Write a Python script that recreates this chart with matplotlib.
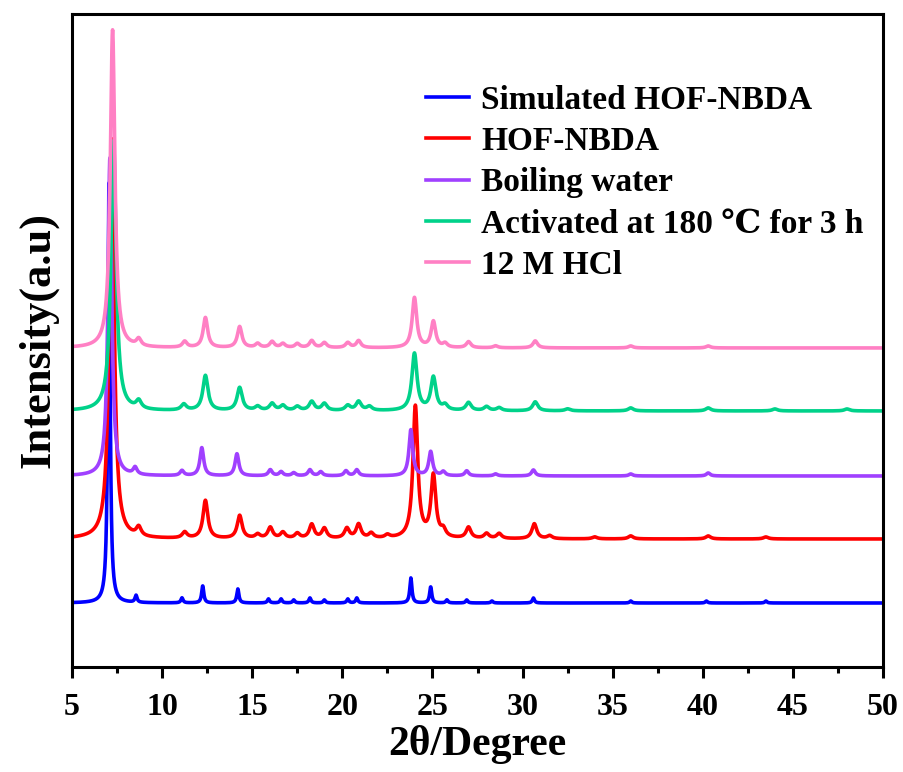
import numpy as np
import matplotlib.pyplot as plt

plt.rcParams['font.family'] = ['Liberation Serif', 'DejaVu Serif']
plt.rcParams['font.weight'] = 'bold'

# sample names and colours
labels = ['Simulated HOF-NBDA', 'HOF-NBDA', 'Boiling water',
          'Activated at 180 \u2103 for 3 h', '12 M HCl']
colors = ['#0000FF', '#FF0000', '#A040FF', '#00D28A', '#FF80C4']

# vertical offsets of each pattern (a.u.)
offsets = [64, 128, 191, 256, 319]

# peak tables: 2theta, height (a.u.), FWHM
sim_pos = [7.05, 8.55, 11.1, 12.25, 14.2, 15.9, 16.6, 17.3, 18.2, 19.0, 20.3, 20.8,
           23.8, 24.9, 25.8, 26.9, 28.3, 30.6, 36.0, 40.2, 43.5]
sim_h = [420, 7, 5, 17, 14, 4, 4, 3, 5, 3, 4, 5, 25, 16, 3, 3, 2, 5, 2, 2, 2]
sim_w = 0.14

hof_pos = [7.2, 8.7, 11.25, 12.4, 14.3, 15.3, 16.0, 16.7, 17.5, 18.3, 19.0, 20.25, 20.9,
           21.6, 22.5, 24.05, 25.05, 25.6, 27.0, 28.0, 28.7, 30.65, 31.5, 34.0, 36.0,
           40.3, 43.5]
hof_h = [400, 9, 6, 38, 23, 4, 11, 6, 5, 14, 10, 10, 14, 5, 3, 132, 62, 7, 11, 5, 5,
         15, 3, 2, 3, 3, 2]
hof_w = 0.32

boil_pos = [7.1, 8.5, 11.1, 12.2, 14.15, 16.0, 16.6, 17.3, 18.2, 18.8, 20.2, 20.8,
            23.8, 24.9, 25.6, 26.9, 28.5, 30.6, 36.0, 40.3]
boil_h = [318, 7, 5, 28, 22, 6, 4, 3, 6, 4, 5, 6, 46, 24, 4, 5, 2, 6, 2, 3]
boil_w = 0.25

act_pos = [7.3, 8.7, 11.2, 12.4, 14.3, 15.3, 16.1, 16.7, 17.5, 18.3, 19.0, 20.3, 20.9,
           21.5, 24.0, 25.05, 25.7, 27.0, 28.0, 28.7, 30.7, 32.5, 36.0, 40.3, 44.0, 48.0]
act_h = [270, 8, 6, 35, 23, 4, 7, 5, 4, 9, 7, 5, 9, 4, 57, 33, 5, 8, 4, 3, 9, 2, 3,
         3, 2, 2]
act_w = 0.34

hcl_pos = [7.25, 8.7, 11.25, 12.4, 14.3, 15.3, 16.1, 16.7, 17.5, 18.3, 19.0, 20.3,
           20.9, 24.0, 25.05, 25.7, 27.0, 28.5, 30.7, 36.0, 40.3]
hcl_h = [318, 7, 6, 30, 21, 4, 6, 4, 4, 7, 5, 5, 7, 50, 26, 4, 6, 2, 7, 2, 2]
hcl_w = 0.3

peak_tables = [(sim_pos, sim_h, sim_w), (hof_pos, hof_h, hof_w),
               (boil_pos, boil_h, boil_w), (act_pos, act_h, act_w),
               (hcl_pos, hcl_h, hcl_w)]

two_theta = np.arange(5, 50.001, 0.01)


def pattern(pos, h, w):
    y = np.zeros_like(two_theta)
    for p, a in zip(pos, h):
        y += a / (1 + ((two_theta - p) / (w / 2)) ** 2)
    return y


fig = plt.figure(figsize=(9.04, 7.72), dpi=100)
ax = fig.add_axes([0.0797, 0.136, 0.8971, 0.846])

for (pos, h, w), off, c, lab in zip(peak_tables, offsets, colors, labels):
    ax.plot(two_theta, pattern(pos, h, w) + off, color=c, lw=2.6, label=lab)

ax.set_xlim(5, 50)
ax.set_ylim(0, 653)
ax.set_xticks(np.arange(5, 51, 5))
ax.set_xticks(np.arange(7.5, 50, 5), minor=True)
ax.set_yticks([])
ax.tick_params(axis='x', which='major', direction='out', length=8, width=2.2,
               labelsize=23, pad=11)
ax.tick_params(axis='x', which='minor', direction='out', length=4, width=2.2)
for s in ax.spines.values():
    s.set_linewidth(2.2)

ax.set_xlabel('2\u03b8/Degree', fontsize=30, fontweight='bold', labelpad=2)
ax.set_ylabel('Intensity(a.u)', fontsize=32, fontweight='bold', labelpad=10)

ax.legend(loc='upper left', bbox_to_anchor=(0.42, 0.912), frameon=False,
          fontsize=24, handlelength=1.3, handletextpad=0.36, labelspacing=0.31,
          borderaxespad=0)

fig.savefig('out.png', dpi=100)
